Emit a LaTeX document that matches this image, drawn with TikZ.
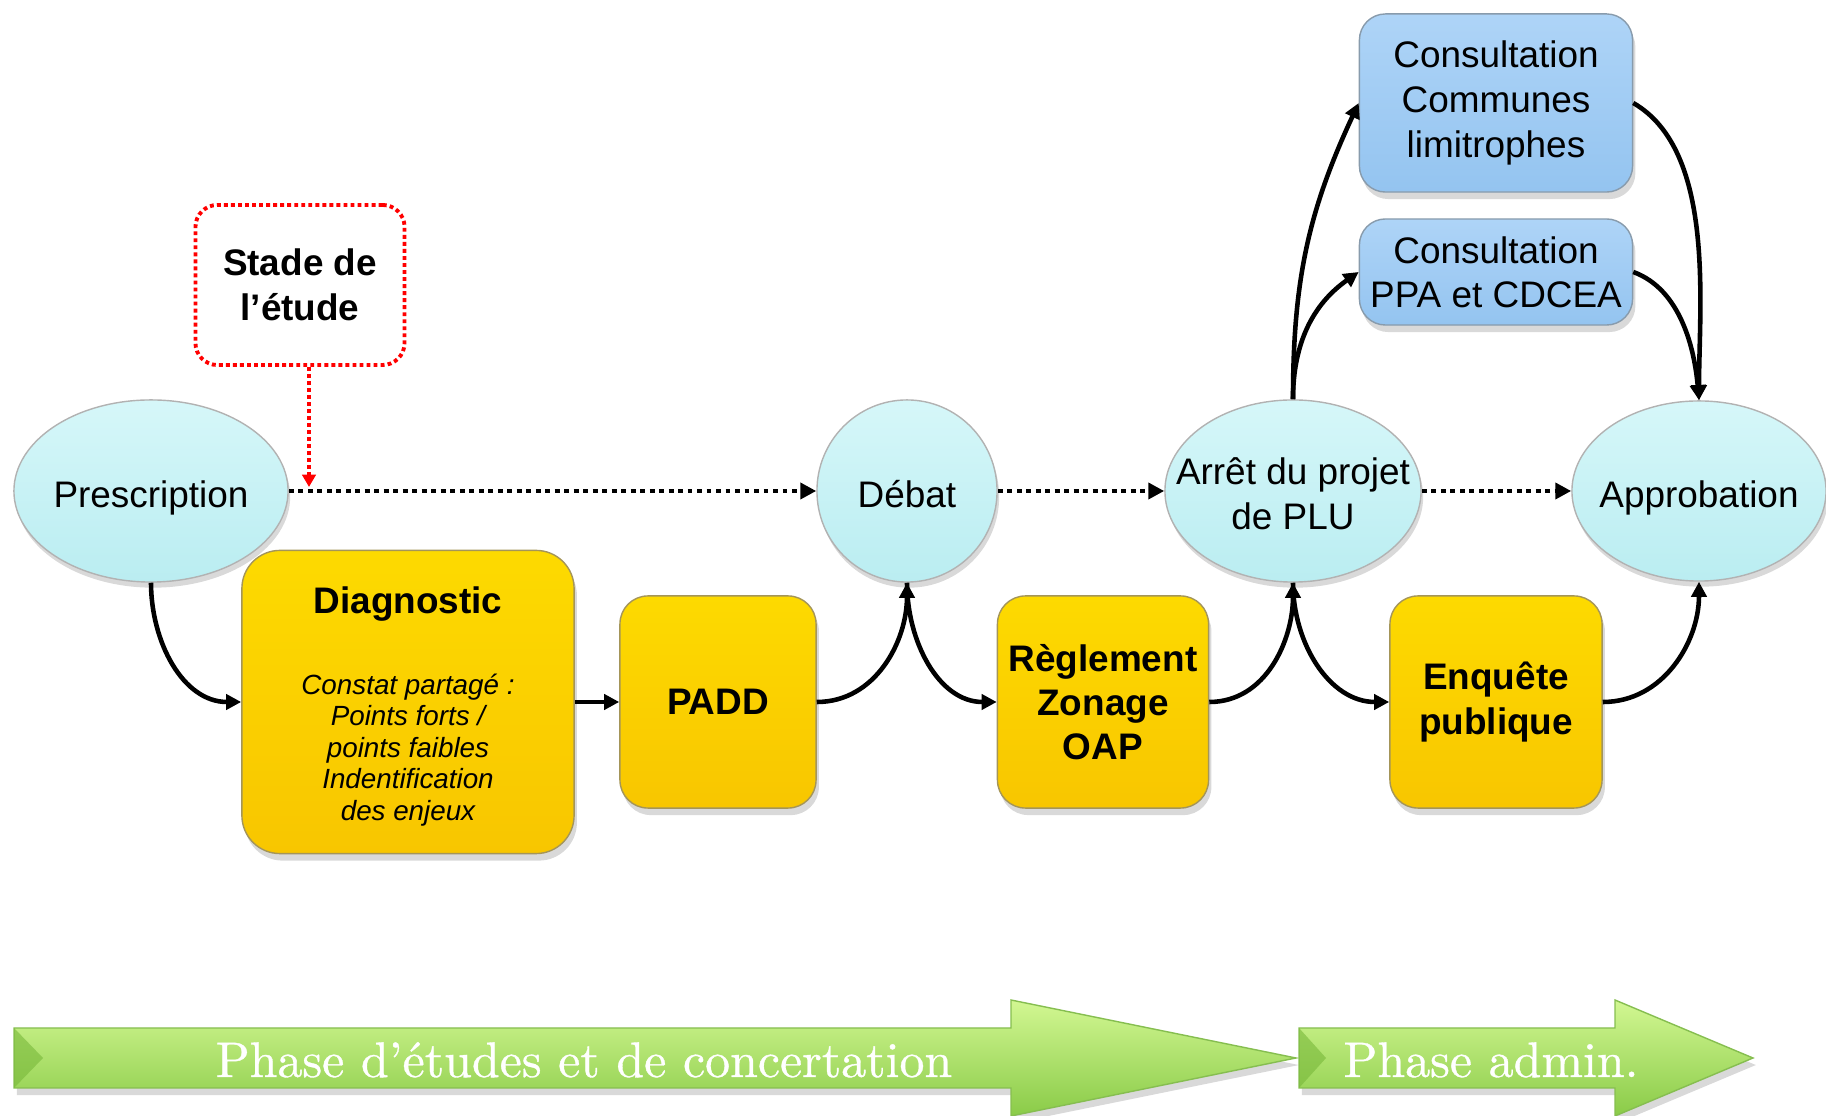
\documentclass[tikz,border=0pt]{standalone}
\usepackage{fontspec}
\newfontfamily\arial{Liberation Sans}
\newfontfamily\phasefont{lmroman10-regular.otf}[FakeBold=0.7]
\usetikzlibrary{arrows.meta,shapes.geometric,shadows}
\definecolor{cyanT}{HTML}{D6F7F9}
\definecolor{cyanB}{HTML}{BAEDF1}
\definecolor{yelT}{HTML}{FDDA00}
\definecolor{yelM}{HTML}{FACB00}
\definecolor{yelB}{HTML}{F8C600}
\definecolor{bluT}{HTML}{AED4F7}
\definecolor{bluB}{HTML}{94C4F0}
\definecolor{grnT}{HTML}{D2F792}
\definecolor{grnM}{HTML}{A4DD5C}
\definecolor{grnB}{HTML}{8ACB48}
\definecolor{grnD}{HTML}{78B83A}
\definecolor{grnE}{HTML}{86BE50}
\newcommand{\ovtext}[1]{\makebox[0pt]{\raisebox{-4.8pt}[0pt][0pt]{\begin{tabular}{@{}c@{}}#1\end{tabular}}}}
\begin{document}
\begin{tikzpicture}[x=0.01cm,y=-0.01cm,
  conn/.style={draw=black,line width=1.3pt,-{Triangle[length=4.3pt,width=4.3pt]}},
  dotconn/.style={draw=black,line width=1.4pt,dash pattern=on 1.4pt off 1.3pt,-{Triangle[length=4.5pt,width=4.5pt]}},
  reddot/.style={draw=red,line width=1.1pt,dash pattern=on 1.1pt off 0.9pt,-{Triangle[length=3.5pt,width=3.8pt]}},
  oval/.style={ellipse,draw=gray!60,line width=0.4pt,top color=cyanT,bottom color=cyanB,
    drop shadow={shadow xshift=0.6pt,shadow yshift=-1.6pt,opacity=0.3},inner sep=0pt,
    font=\arial\fontsize{10.5}{12.6}\selectfont},
  ybox/.style={rectangle,draw=gray!70!yelB,line width=0.4pt,top color=yelT,middle color=yelM,bottom color=yelB,
    drop shadow={shadow xshift=0.8pt,shadow yshift=-2pt,opacity=0.3},inner sep=0pt,align=center,
    font=\arial\bfseries\fontsize{10.5}{12.6}\selectfont},
  bbox/.style={rectangle,rounded corners=0.26cm,draw=gray!60!bluB,line width=0.4pt,top color=bluT,bottom color=bluB,
    drop shadow={shadow xshift=0.8pt,shadow yshift=-2pt,opacity=0.3},inner sep=0pt,align=center,
    font=\arial\fontsize{10.5}{12.6}\selectfont},
  garrow/.style={draw=grnE,line width=0.4pt,top color=grnT,middle color=grnM,bottom color=grnB,
    drop shadow={shadow xshift=0.8pt,shadow yshift=-2pt,opacity=0.3}},
  phasetxt/.style={text=white,font=\phasefont\fontsize{14.2}{17}\selectfont,anchor=base,inner sep=0pt}
]
\useasboundingbox (0,0) rectangle (1826,1116);

% ellipses
\node[oval,minimum width=2.74cm,minimum height=1.82cm] (presc) at (151,491) {\ovtext{Prescription}};
\node[oval,minimum width=1.80cm,minimum height=1.82cm] (debat) at (907,491) {\ovtext{Débat}};
\node[oval,minimum width=2.56cm,minimum height=1.82cm] (arret) at (1293,491) {\ovtext{Arrêt du projet\\de PLU}};
\node[oval,minimum width=2.54cm,minimum height=1.80cm] (approb) at (1699,491) {\ovtext{Approbation}};

% stade de l'etude
\node[rectangle,rounded corners=0.22cm,draw=red,line width=1.1pt,dash pattern=on 1.1pt off 0.9pt,
  minimum width=2.09cm,minimum height=1.60cm,align=center,
  font=\arial\bfseries\fontsize{10.5}{12.8}\selectfont] (stade) at (300,285) {Stade de\\l’étude};

% yellow boxes
\node[ybox,rounded corners=0.38cm,minimum width=3.32cm,minimum height=3.03cm] (diag) at (408,702) {};
\node[font=\arial\bfseries\fontsize{10.5}{12.6}\selectfont,inner sep=0pt] (diagtitle) at (408,604) {Diagnostic};
\node[font=\arial\itshape\fontsize{7.9}{9}\selectfont,align=center,inner sep=0pt] (diagtext) at (408,750)
  {Constat partagé :\\Points forts /\\points faibles\\Indentification\\des enjeux};
\node[ybox,rounded corners=0.28cm,minimum width=1.96cm,minimum height=2.12cm] (padd) at (718,702) {PADD};
\node[ybox,rounded corners=0.28cm,minimum width=2.11cm,minimum height=2.12cm] (regl) at (1103,702) {Règlement\\Zonage\\OAP};
\node[ybox,rounded corners=0.28cm,minimum width=2.12cm,minimum height=2.12cm] (enq) at (1496,702) {Enquête\\publique};

% blue boxes
\node[bbox,minimum width=2.73cm,minimum height=1.78cm,font=\arial\fontsize{10.5}{12.9}\selectfont] (comm) at (1496,103) {Consultation\\Communes\\limitrophes};
\node[bbox,minimum width=2.73cm,minimum height=1.06cm] (ppa) at (1496,272) {Consultation\\PPA et CDCEA};

% dotted main line
\draw[dotconn] (presc.east) -- (debat.west);
\draw[dotconn] (debat.east) -- (arret.west);
\draw[dotconn] (arret.east) -- (approb.west);

% red arrow
\coordinate (redtip) at (309,487);
\draw[reddot] (stade.south -| redtip) -- (redtip);

% solid connectors
\draw[conn] (presc.south) to[out=-90,in=180] (diag.west);
\draw[conn] (diag.east) -- (padd.west);
\draw[conn] (padd.east) to[out=0,in=-90] (debat.south);
\draw[conn] (debat.south) to[out=-90,in=180] (regl.west);
\draw[conn] (regl.east) to[out=0,in=-90] (arret.south);
\draw[conn] (arret.south) to[out=-90,in=180] (enq.west);
\draw[conn] (enq.east) to[out=0,in=-90] (approb.south);
\draw[conn] (arret.north) to[out=90,in=245] (comm.west);
\draw[conn] (arret.north) to[out=90,in=215] (ppa.west);
\draw[conn] (comm.east) to[out=-30,in=90,looseness=0.8] (approb.north);
\draw[conn] (ppa.east) to[out=-20,in=95,looseness=0.9] (approb.north);

% green phase arrows
\path[garrow] (14,1028) -- (1011,1028) -- (1011,1000) -- (1296,1058) -- (1011,1116) -- (1011,1088) -- (14,1088) -- cycle;
\fill[grnD,opacity=0.6] (14,1028) -- (43,1058) -- (14,1088) -- cycle;
\path[garrow] (1299,1028) -- (1615,1028) -- (1615,1000) -- (1753,1058) -- (1615,1116) -- (1615,1088) -- (1299,1088) -- cycle;
\fill[grnD,opacity=0.6] (1299,1028) -- (1326,1058) -- (1299,1088) -- cycle;
\node[phasetxt] (ph1) at (584,1077) {Phase d’études et de concertation};
\node[phasetxt] (ph2) at (1491,1077) {Phase admin.};
\end{tikzpicture}
\end{document}
